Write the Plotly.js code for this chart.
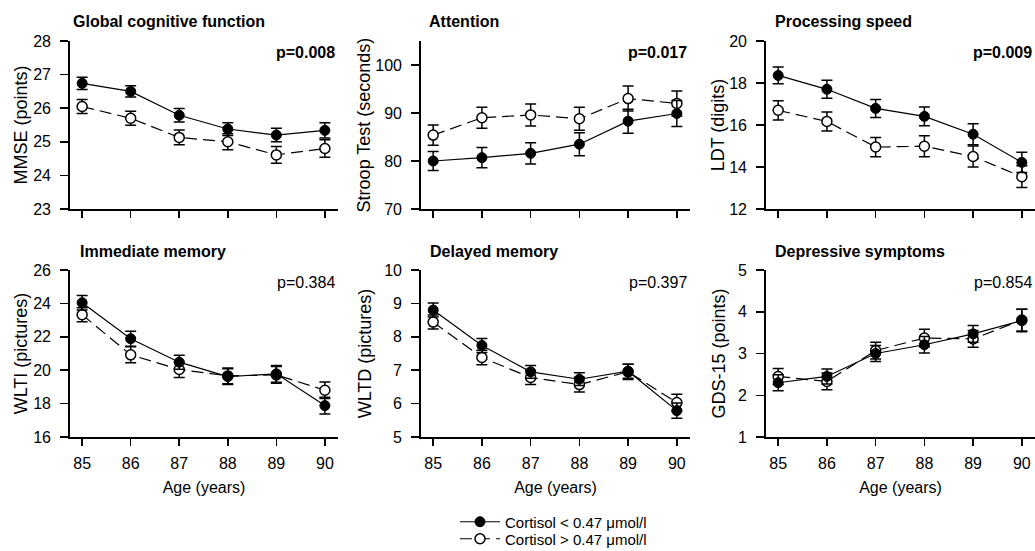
<!DOCTYPE html>
<html>
<head>
<meta charset="utf-8">
<script src="https://cdn.plot.ly/plotly-3.0.1.min.js"></script>
<style>html,body{margin:0;padding:0;background:#fff;}#chart{width:1035px;height:551px;}</style>
</head>
<body>
<div id="chart"></div>
<script>
// ---- data ----
const ages = [85, 86, 87, 88, 89, 90];
const seriesNames = ["Cortisol < 0.47 \u03bcmol/l", "Cortisol > 0.47 \u03bcmol/l"];

const mmseLowMean  = [26.74, 26.50, 25.79, 25.38, 25.20, 25.34];
const mmseLowErr   = [0.18, 0.17, 0.20, 0.19, 0.20, 0.23];
const mmseHighMean = [26.05, 25.70, 25.13, 25.00, 24.61, 24.80];
const mmseHighErr  = [0.21, 0.21, 0.22, 0.24, 0.25, 0.26];

const stroopLowMean  = [80.0, 80.7, 81.6, 83.5, 88.3, 89.9];
const stroopLowErr   = [2.0, 2.1, 2.2, 2.4, 2.5, 2.7];
const stroopHighMean = [85.4, 89.0, 89.6, 88.8, 93.0, 92.0];
const stroopHighErr  = [2.1, 2.2, 2.3, 2.4, 2.6, 2.6];

const ldtLowMean  = [18.36, 17.70, 16.79, 16.41, 15.56, 14.22];
const ldtLowErr   = [0.40, 0.43, 0.43, 0.45, 0.50, 0.48];
const ldtHighMean = [16.70, 16.17, 14.95, 14.99, 14.50, 13.54];
const ldtHighErr  = [0.46, 0.45, 0.46, 0.50, 0.50, 0.52];

const wltiLowMean  = [24.04, 21.88, 20.48, 19.62, 19.78, 17.88];
const wltiLowErr   = [0.44, 0.45, 0.42, 0.47, 0.50, 0.50];
const wltiHighMean = [23.32, 20.92, 20.04, 19.66, 19.72, 18.80];
const wltiHighErr  = [0.42, 0.48, 0.47, 0.47, 0.50, 0.50];

const wltdLowMean  = [8.80, 7.74, 6.95, 6.73, 6.97, 5.79];
const wltdLowErr   = [0.21, 0.21, 0.19, 0.19, 0.21, 0.23];
const wltdHighMean = [8.44, 7.38, 6.78, 6.57, 6.95, 6.03];
const wltdHighErr  = [0.21, 0.22, 0.21, 0.22, 0.23, 0.25];

const gdsLowMean  = [2.30, 2.45, 3.00, 3.21, 3.47, 3.79];
const gdsLowErr   = [0.19, 0.18, 0.19, 0.20, 0.20, 0.27];
const gdsHighMean = [2.45, 2.33, 3.07, 3.37, 3.35, 3.80];
const gdsHighErr  = [0.19, 0.20, 0.20, 0.21, 0.20, 0.26];

const panelTitles = ["Global cognitive function", "Attention", "Processing speed",
                     "Immediate memory", "Delayed memory", "Depressive symptoms"];
const yTitles = ["MMSE (points)", "Stroop Test (seconds)", "LDT (digits)",
                 "WLTI (pictures)", "WLTD (pictures)", "GDS-15 (points)"];
const pValues = ["p=0.008", "p=0.017", "p=0.009", "p=0.384", "p=0.397", "p=0.854"];
const xTitle = "Age (years)";

const lowMeans  = [mmseLowMean, stroopLowMean, ldtLowMean, wltiLowMean, wltdLowMean, gdsLowMean];
const lowErrs   = [mmseLowErr, stroopLowErr, ldtLowErr, wltiLowErr, wltdLowErr, gdsLowErr];
const highMeans = [mmseHighMean, stroopHighMean, ldtHighMean, wltiHighMean, wltdHighMean, gdsHighMean];
const highErrs  = [mmseHighErr, stroopHighErr, ldtHighErr, wltiHighErr, wltdHighErr, gdsHighErr];

// ---- layout geometry ----
const W = 1035, H = 551;
const FONT = "Liberation Sans, Arial, Helvetica, sans-serif";
const colPx = [[70, 338], [421, 690], [766, 1035]];
const rowPx = [[41, 209], [270, 437]];
const yRanges = [[23, 28], [70, 105], [12, 20], [16, 26], [5, 10], [1, 5]];
const yDtick = [1, 10, 2, 2, 1, 1];
const yStandoff = [1, 0, 0, 1, 8, 8];
const titleLeftPx = [71, 427, 773, 78, 428, 773];
const titleYPx = [22, 251];
const pYPx = [52, 282];

const traces = [];
const legendBase = {
  xanchor: "left", yanchor: "middle", bgcolor: "rgba(0,0,0,0)", borderwidth: 0,
  font: {family: FONT, size: 15, color: "#000"}, itemwidth: 40
};
const layout = {
  width: W, height: H,
  margin: {l: 0, r: 0, t: 0, b: 0, autoexpand: false},
  paper_bgcolor: "#fff", plot_bgcolor: "rgba(0,0,0,0)",
  font: {family: FONT, size: 16, color: "#000"},
  showlegend: true,
  legend:  Object.assign({x: 455 / W, y: 1 - 522 / H}, legendBase),
  legend2: Object.assign({x: 455 / W, y: 1 - 539 / H}, legendBase),
  annotations: []
};

for (let i = 0; i < 6; i++) {
  const r = Math.floor(i / 3), c = i % 3;
  const xa = i === 0 ? "x" : "x" + (i + 1);
  const ya = i === 0 ? "y" : "y" + (i + 1);
  const xKey = i === 0 ? "xaxis" : "xaxis" + (i + 1);
  const yKey = i === 0 ? "yaxis" : "yaxis" + (i + 1);

  const common = {
    x: ages, xaxis: xa, yaxis: ya, type: "scatter", mode: "lines+markers",
    cliponaxis: false, hoverinfo: "x+y"
  };
  traces.push(Object.assign({}, common, {
    y: highMeans[i], name: seriesNames[1], showlegend: i === 0, legend: "legend2",
    line: {color: "#000", width: 1.2, dash: "12px,6px"},
    marker: {symbol: "circle", size: 10, color: "#fff", line: {color: "#000", width: 1.5}},
    error_y: {type: "data", array: highErrs[i], visible: true, color: "#000", thickness: 1.5, width: 5.5}
  }));
  traces.push(Object.assign({}, common, {
    y: lowMeans[i], name: seriesNames[0], showlegend: i === 0, legend: "legend",
    line: {color: "#000", width: 1.2},
    marker: {symbol: "circle", size: 10, color: "#000", line: {color: "#000", width: 1}},
    error_y: {type: "data", array: lowErrs[i], visible: true, color: "#000", thickness: 1.5, width: 5.5}
  }));

  layout[xKey] = {
    domain: [colPx[c][0] / W, colPx[c][1] / W],
    anchor: ya, range: [84.75, 90.27],
    tickmode: "array", tickvals: ages, ticktext: ages.map(String),
    showticklabels: r === 1,
    ticks: "outside", ticklen: 7, tickwidth: 1.5, tickcolor: "#000",
    ticklabelstandoff: 4,
    showline: true, linecolor: "#000", linewidth: 1.8,
    showgrid: false, zeroline: false, automargin: false, fixedrange: true,
    tickfont: {family: FONT, size: 16, color: "#000"},
    title: r === 1 ? {text: xTitle, font: {family: FONT, size: 16, color: "#000"}, standoff: 11} : {text: ""}
  };
  layout[yKey] = {
    domain: [1 - rowPx[r][1] / H, 1 - rowPx[r][0] / H],
    anchor: xa, range: yRanges[i],
    tick0: yRanges[i][0], dtick: yDtick[i],
    ticks: "outside", ticklen: 8, tickwidth: 1.5, tickcolor: "#000",
    ticklabelstandoff: 6,
    showline: true, linecolor: "#000", linewidth: 1.8,
    showgrid: false, zeroline: false, automargin: false, fixedrange: true,
    tickfont: {family: FONT, size: 16, color: "#000"},
    title: {text: yTitles[i], font: {family: FONT, size: 18, color: "#000"}, standoff: yStandoff[i]}
  };

  layout.annotations.push({
    text: "<b>" + panelTitles[i] + "</b>", xref: "paper", yref: "paper",
    x: titleLeftPx[i] / W, y: 1 - titleYPx[r] / H, xanchor: "left", yanchor: "middle",
    showarrow: false, font: {family: FONT, size: 16, color: "#000"}
  });
  layout.annotations.push({
    text: r === 0 ? "<b>" + pValues[i] + "</b>" : pValues[i], xref: "paper", yref: "paper",
    x: (colPx[c][1] - 1) / W, y: 1 - pYPx[r] / H, xanchor: "right", yanchor: "middle",
    showarrow: false, font: {family: FONT, size: 16, color: "#000"}
  });
}

Plotly.newPlot("chart", traces, layout, {displayModeBar: false, staticPlot: true});
</script>
</body>
</html>
